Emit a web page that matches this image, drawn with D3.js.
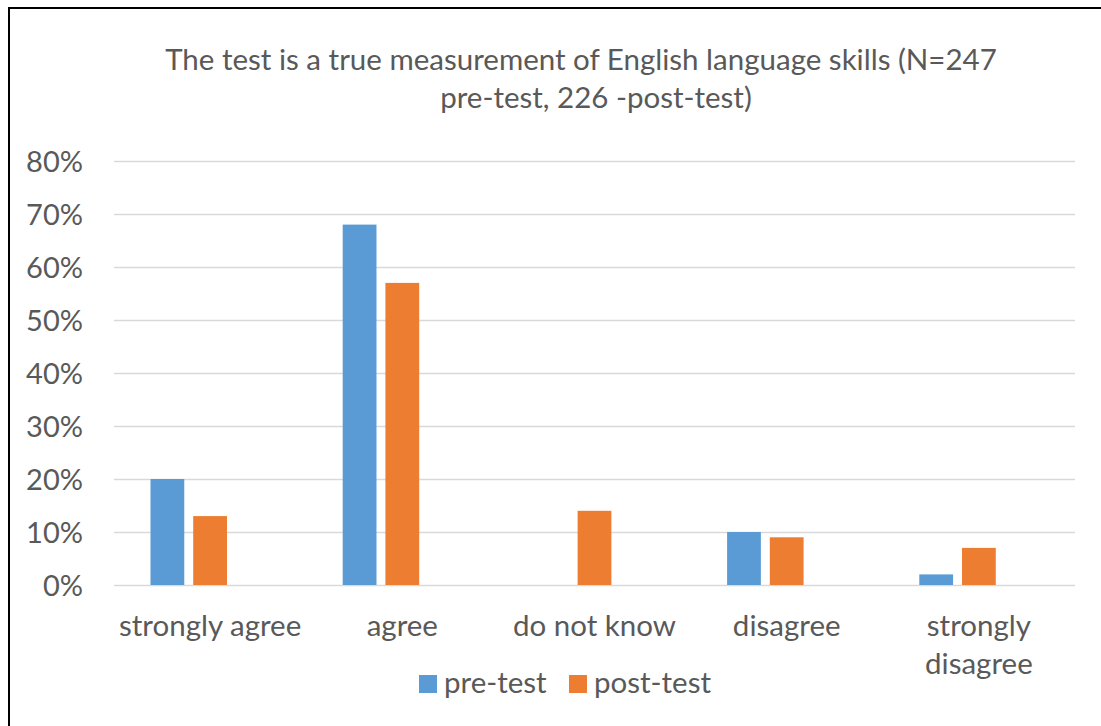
<!DOCTYPE html>
<html lang="en">
  <head>
    <meta charset="utf-8">
    <title>The test is a true measurement of English language skills</title>
    <script src="https://d3js.org/d3.v7.js"></script>
    <style>
      body { margin: 0; background: #fff; overflow: hidden; }
      svg { display: block; }
      text { font-family: Lato, "Open Sans", sans-serif; fill: #595959; }
    </style>
  </head>

  <body>
    <svg></svg>

  <script>

// data
  const categories = ["strongly agree", "agree", "do not know", "disagree", "strongly disagree"];
  const series = ["pre-test", "post-test"];
  const preTest = [0.20, 0.68, 0.00, 0.10, 0.02];
  const postTest = [0.13, 0.57, 0.14, 0.09, 0.07];
  const yTicks = [0, 0.1, 0.2, 0.3, 0.4, 0.5, 0.6, 0.7, 0.8];
  const titleLines = ["The test is a true measurement of English language skills (N=247",
                      "pre-test, 226 -post-test)"];

  const colors = {"pre-test": "#5B9BD5", "post-test": "#ED7D31"};

  const w = 1101;
  const h = 726;
  const margin = {top: 161, right: 26, bottom: 141, left: 114};
  const innerWidth = w - margin.left - margin.right;
  const innerHeight = h - margin.top - margin.bottom;
  const fontSize = 29.5;

  const svg = d3.select("svg")
      .attr("width", w)
      .attr("height", h);

  // frame: only the top and left edges show in the picture
  svg.append("path")
      .attr("d", `M9,${h} V8 H${w}`)
      .attr("fill", "none")
      .attr("stroke", "#000")
      .attr("stroke-width", 2);

  const rows = categories.map((c, i) => ({cat: c, values: [
      {key: "pre-test", value: preTest[i]},
      {key: "post-test", value: postTest[i]}]}));

  const x0 = d3.scaleBand()
      .domain(categories)
      .range([0, innerWidth])
      .paddingInner(0)
      .paddingOuter(0);

  // Excel keeps an empty third slot in each cluster
  const slots = series.concat([" "]);
  const x1 = d3.scaleBand()
      .domain(slots)
      .range([36.5, x0.bandwidth() - 36.5])
      .paddingInner(9 / 43);

  const yScale = d3.scaleLinear()
      .domain([0, 0.8])
      .range([innerHeight, 0]);

  const plot = svg.append("g")
      .attr("transform", `translate(${margin.left}, ${margin.top})`);

// gridlines + y axis labels
  const yAxis = d3.axisLeft(yScale)
      .tickValues(yTicks)
      .tickFormat(d3.format(".0%"))
      .tickSize(-innerWidth)
      .tickPadding(31);

  plot.append("g")
      .attr("class", "yAxis")
      .call(yAxis)
      .call(g => g.select(".domain").remove())
      .call(g => g.selectAll("line").attr("stroke", "#D9D9D9").attr("stroke-width", 1.3))
      .call(g => g.selectAll("text")
          .attr("font-size", 29)
          .attr("font-family", "Lato")
          .attr("fill", "#595959")
          .attr("dy", "0.35em"));

// bars
  plot.append("g")
    .selectAll("g")
    .data(rows)
    .join("g")
      .attr("transform", d => `translate(${x0(d.cat)}, 0)`)
    .selectAll("rect")
    .data(d => d.values)
    .join("rect")
      .attr("x", d => x1(d.key))
      .attr("y", d => yScale(d.value))
      .attr("width", x1.bandwidth())
      .attr("height", d => innerHeight - yScale(d.value))
      .attr("fill", d => colors[d.key]);

// x axis labels (wrap the long one like the original)
  const xAxis = d3.axisBottom(x0).tickSize(0).tickPadding(0);
  plot.append("g")
      .attr("class", "xAxis")
      .attr("transform", `translate(0, ${innerHeight})`)
      .call(xAxis)
      .call(g => g.select(".domain").remove())
      .call(g => g.selectAll("text").each(function(d) {
          const t = d3.select(this)
              .attr("y", 0)
              .attr("dy", null)
              .attr("font-size", fontSize)
              .attr("font-family", "Lato")
              .attr("fill", "#595959")
              .text(null);
          const parts = d === "strongly disagree" ? ["strongly", "disagree"] : [d];
          parts.forEach((p, i) => t.append("tspan")
              .attr("x", 0)
              .attr("y", 51 + i * 38)
              .text(p));
      }));

// title
  svg.append("g")
    .selectAll("text")
    .data(titleLines)
    .join("text")
      .attr("x", (d, i) => i === 0 ? 581 : 596)
      .attr("y", (d, i) => 70 + i * 38)
      .attr("text-anchor", "middle")
      .attr("font-size", fontSize)
      .text(d => d);

// legend
  const legend = svg.append("g")
      .attr("transform", "translate(419, 675)");

  const items = legend.selectAll("g")
    .data(series)
    .join("g")
      .attr("transform", (d, i) => `translate(${i * 150}, 0)`);

  items.append("rect")
      .attr("width", 18)
      .attr("height", 18)
      .attr("fill", d => colors[d]);

  items.append("text")
      .attr("x", 25)
      .attr("y", 18)
      .attr("font-size", fontSize)
      .text(d => d);

    </script>

  </body>

</html>
